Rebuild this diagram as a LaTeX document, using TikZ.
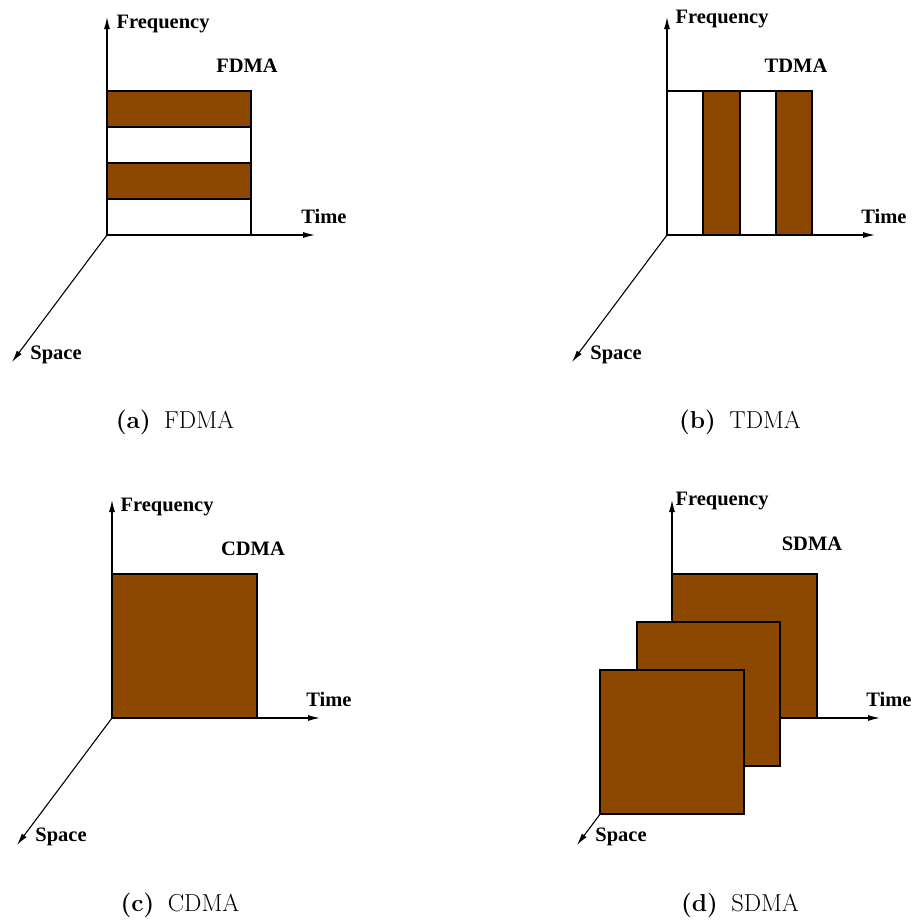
\documentclass[tikz,border=0pt]{standalone}
\usepackage{fontspec}
\newfontfamily\labfont{Liberation Serif}
\usetikzlibrary{arrows.meta}
\definecolor{band}{RGB}{140,72,0}
\tikzset{
  axis/.style={line width=1.1pt,-{Latex[length=12pt,width=6pt]}},
  slot/.style={line width=1.1pt,draw=black,fill=band},
  free/.style={line width=1.1pt,draw=black,fill=white},
  lab/.style={font=\labfont\bfseries\fontsize{20.5}{24}\selectfont,inner sep=0pt},
  captext/.style={font=\fontsize{24.5}{29}\selectfont,inner sep=0pt,anchor=base}
}
\newcommand{\capsep}{\hspace{0.55em}}
\begin{document}
\begin{tikzpicture}[x=1pt,y=-1pt]
\useasboundingbox[fill=white] (0,0) rectangle (916,922);
% ---------- (a) FDMA
\coordinate (oA) at (107,235);
\coordinate (fA) at (107,17);
\coordinate (tA) at (315,235);
\coordinate (sA) at (12,362);
\draw[axis] (oA) -- (fA);
\draw[axis] (oA) -- (tA);
\draw[axis] (oA) -- (sA);
\draw[slot] (107,91) rectangle (251,127);
\draw[free] (107,127) rectangle (251,163);
\draw[slot] (107,163) rectangle (251,199);
\draw[free] (107,199) rectangle (251,235);
\node[lab] (lfA) at (163,24) {Frequency};
\node[lab] (lnA) at (247,66) {FDMA};
\node[lab] (ltA) at (324,216) {Time};
\node[lab] (lsA) at (56,355) {Space};
\node[captext] (cA) at (175,428) {\textbf{(a)}\capsep FDMA};
% ---------- (b) TDMA
\coordinate (oB) at (667,235);
\coordinate (fB) at (667,17);
\coordinate (tB) at (875,235);
\coordinate (sB) at (572,362);
\draw[axis] (oB) -- (fB);
\draw[axis] (oB) -- (tB);
\draw[axis] (oB) -- (sB);
\draw[free] (667,91) rectangle (703,235);
\draw[slot] (703,91) rectangle (740,235);
\draw[free] (740,91) rectangle (776,235);
\draw[slot] (776,91) rectangle (812,235);
\node[lab] (lfB) at (722,19) {Frequency};
\node[lab] (lnB) at (796,66) {TDMA};
\node[lab] (ltB) at (884,216) {Time};
\node[lab] (lsB) at (616,355) {Space};
\node[captext] (cB) at (740,428) {\textbf{(b)}\capsep TDMA};
% ---------- (c) CDMA
\coordinate (oC) at (112,718);
\coordinate (fC) at (112,500);
\coordinate (tC) at (320,718);
\coordinate (sC) at (17,845);
\draw[axis] (oC) -- (fC);
\draw[axis] (oC) -- (tC);
\draw[axis] (oC) -- (sC);
\draw[slot] (112,574) rectangle (257,718);
\node[lab] (lfC) at (167,507) {Frequency};
\node[lab] (lnC) at (253,549) {CDMA};
\node[lab] (ltC) at (329,699) {Time};
\node[lab] (lsC) at (61,837) {Space};
\node[captext] (cC) at (180,911) {\textbf{(c)}\capsep CDMA};
% ---------- (d) SDMA
\coordinate (oD) at (672,718);
\coordinate (fD) at (672,500);
\coordinate (tD) at (880,718);
\coordinate (sD) at (577,845);
\draw[axis] (oD) -- (fD);
\draw[axis] (oD) -- (tD);
\draw[axis] (oD) -- (sD);
\draw[slot] (672,574) rectangle (817,718);
\draw[slot] (637,622) rectangle (780,766);
\draw[slot] (600,670) rectangle (744,814);
\node[lab] (lfD) at (722,501) {Frequency};
\node[lab] (lnD) at (812,544) {SDMA};
\node[lab] (ltD) at (889,699) {Time};
\node[lab] (lsD) at (621,837) {Space};
\node[captext] (cD) at (740,911) {\textbf{(d)}\capsep SDMA};
\end{tikzpicture}
\end{document}
